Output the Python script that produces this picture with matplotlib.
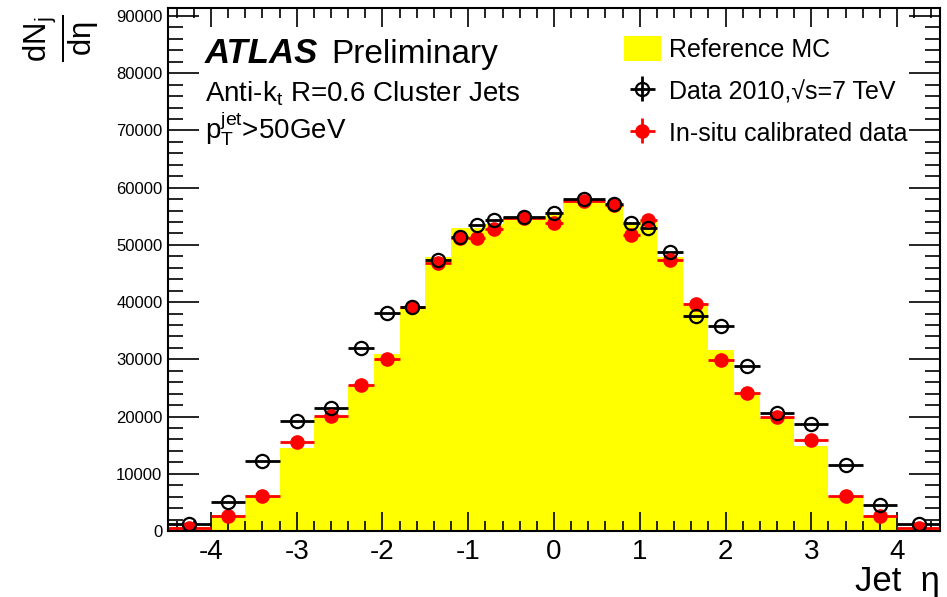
"""Jet eta distribution: reference MC vs 2010 data and in-situ calibrated data."""

import matplotlib
matplotlib.use('Agg')
import matplotlib.pyplot as plt
from matplotlib.patches import Patch
import numpy as np

plt.rcParams['font.family'] = ['Liberation Sans', 'DejaVu Sans']
plt.rcParams['mathtext.fontset'] = 'custom'
plt.rcParams['mathtext.rm'] = 'Liberation Sans'
plt.rcParams['mathtext.it'] = 'Liberation Sans:italic'
plt.rcParams['mathtext.bf'] = 'Liberation Sans:bold'
plt.rcParams['axes.unicode_minus'] = False

# --- eta bin edges ---
EDGES = [-4.5, -4.0, -3.6, -3.2, -2.8, -2.4, -2.1, -1.8, -1.5, -1.2, -1.0, -0.8,
         -0.6, -0.1, 0.1, 0.6, 0.8, 1.0, 1.2, 1.5, 1.8, 2.1, 2.4, 2.8, 3.2, 3.6,
         4.0, 4.5]

# --- dN/deta per bin ---
MC = [700, 2800, 6300, 14450, 20000, 25300, 31000, 38900, 47900, 52900, 53000,
      53600, 54900, 55800, 57500, 56800, 54000, 54300, 47800, 39500, 31600,
      23900, 19700, 14900, 6200, 2800, 600]
DATA = [1250, 5000, 12200, 19300, 21500, 31900, 38100, 39100, 47400, 51300,
        53500, 54300, 54900, 55600, 58000, 57100, 53900, 52900, 48800, 37500,
        35900, 28800, 20700, 18700, 11600, 4600, 1300]
INSITU = [450, 2700, 6200, 15600, 20100, 25500, 30100, 39100, 46900, 51200,
          51200, 52700, 54700, 53800, 57700, 57000, 51800, 54300, 47400, 39700,
          29900, 24200, 20000, 15900, 6200, 2600, 450]


def main():
    edges = np.array(EDGES)
    centers = 0.5 * (edges[1:] + edges[:-1])
    half = 0.5 * np.diff(edges)
    zero = np.zeros_like(centers)

    fig = plt.figure(figsize=(9.47, 5.97), dpi=100)
    ax = fig.add_axes([168 / 947, 1 - 531 / 597, 772 / 947, 523 / 597])

    ax.stairs(MC, edges, fill=True, color='#ffff00', linewidth=0)

    red = ax.errorbar(centers, INSITU, xerr=half, yerr=zero, fmt='o',
                      color='#ff0000', ms=9.5, elinewidth=2, capsize=0)
    blk = ax.errorbar(centers, DATA, xerr=half, yerr=zero, fmt='o',
                      color='black', mfc='none', mec='black', ms=9.5, mew=1.6,
                      elinewidth=2, capsize=0)

    ax.set_xlim(-4.5, 4.5)
    ax.set_ylim(0, 91400)
    ax.set_xticks(np.arange(-4, 5, 1))
    ax.set_xticks(np.arange(-4.4, 4.5, 0.2), minor=True)
    ax.set_yticks(np.arange(0, 90001, 10000))
    ax.set_yticks(np.arange(0, 91001, 2000), minor=True)
    ax.tick_params(axis='both', which='both', direction='in', top=True, right=True,
                   width=1.2)
    ax.tick_params(axis='x', which='major', length=14, labelsize=20, pad=6)
    ax.tick_params(axis='x', which='minor', length=7)
    ax.tick_params(axis='y', which='major', length=22, labelsize=12, pad=4)
    ax.tick_params(axis='y', which='minor', length=11)
    for s in ax.spines.values():
        s.set_linewidth(1.5)

    ax.set_xlabel('Jet  η', fontsize=25, loc='right', labelpad=0)
    fig.text(62 / 947, 1 - 38 / 597, r'$\frac{\mathrm{dN_j}}{\mathrm{dη}}$',
             rotation=90, fontsize=32, ha='center', va='center')

    atlas = ax.text(0.048, 0.895, 'ATLAS', transform=ax.transAxes, fontsize=25,
                    fontweight='bold', fontstyle='italic')
    ax.annotate('Preliminary', xy=(1, 0), xycoords=atlas, xytext=(9, 0),
                textcoords='offset points', fontsize=24, va='bottom')
    ax.text(0.048, 0.822, r'Anti-k$_\mathrm{t}$ R=0.6 Cluster Jets',
            transform=ax.transAxes, fontsize=20)
    ax.text(0.048, 0.751, r'p$_\mathrm{T}^\mathrm{jet}$>50GeV',
            transform=ax.transAxes, fontsize=20)

    handles = [Patch(facecolor='#ffff00', edgecolor='none'), blk, red]
    labels = ['Reference MC', 'Data 2010,√s=7 TeV', 'In-situ calibrated data']
    ax.legend(handles, labels, loc='upper left', bbox_to_anchor=(0.591, 0.947),
              frameon=False, fontsize=18, handlelength=1.45, handleheight=1.2,
              handletextpad=0.35, labelspacing=0.64, borderaxespad=0,
              borderpad=0)

    fig.savefig('out.png', dpi=100)
    plt.close(fig)


if __name__ == '__main__':
    main()
